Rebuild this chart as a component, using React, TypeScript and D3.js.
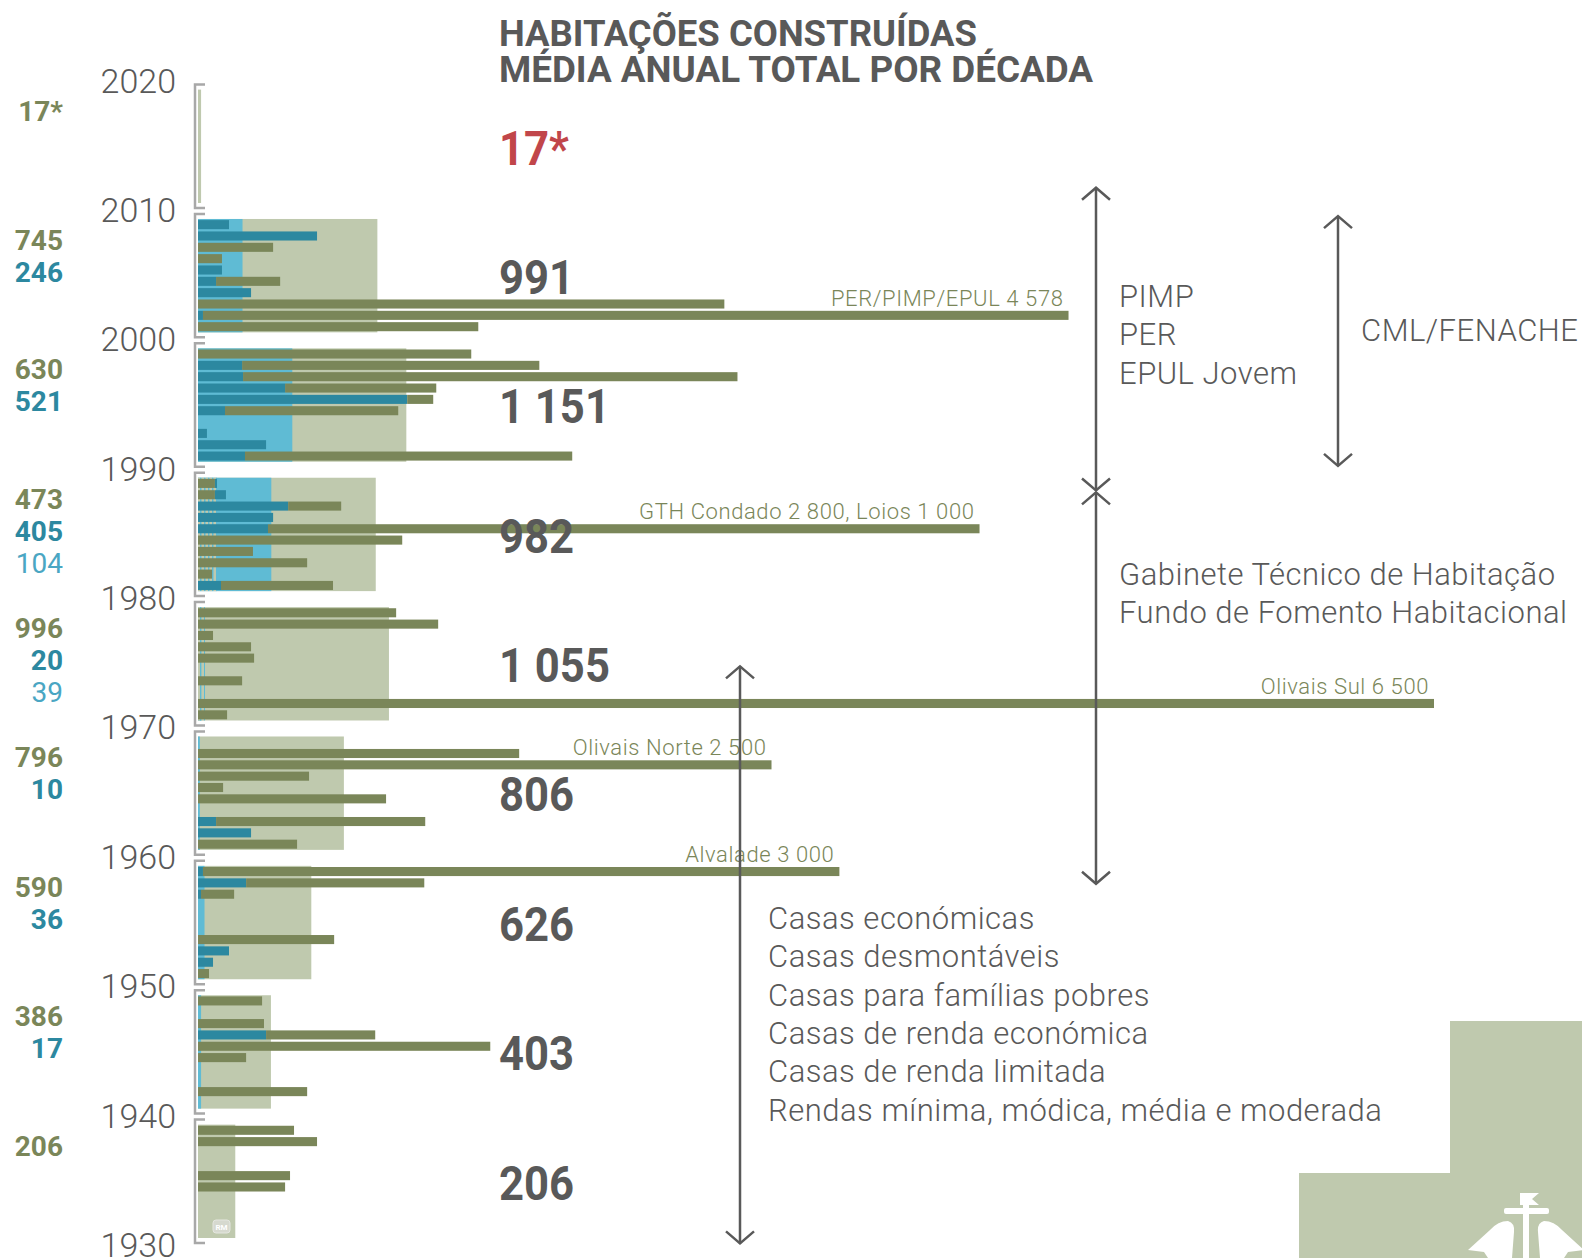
import React, { useRef, useEffect } from 'react'
import * as d3 from 'd3'

const width = 1582
const height = 1258

// decade summaries (annual average per decade)
const decades = [1930, 1940, 1950, 1960, 1970, 1980, 1990, 2000, 2010]
const oliveAvg = [206, 386, 590, 796, 996, 473, 630, 745, 17]
const tealAvg = [0, 17, 36, 10, 20, 405, 521, 246, 0]
const otherAvg = [0, 0, 0, 0, 39, 104, 0, 0, 0]
const totalAvg = [206, 403, 626, 806, 1055, 982, 1151, 991, 17]
const totalText = ['206', '403', '626', '806', '1 055', '982', '1 151', '991', '17*']

// yearly values, first year of decade first
const olive1930 = [0, 0, 0, 0, 458, 484, 0, 0, 626, 505]
const teal1930 = [0, 0, 0, 0, 0, 0, 0, 0, 0, 0]
const olive1940 = [0, 574, 0, 0, 253, 1537, 574, 347, 0, 337]
const teal1940 = [0, 0, 0, 0, 0, 0, 358, 0, 0, 0]
const olive1950 = [58, 0, 0, 716, 0, 0, 0, 174, 937, 3347]
const teal1950 = [0, 79, 163, 0, 0, 0, 0, 16, 253, 26]
const olive1960 = [521, 0, 1100, 0, 989, 132, 584, 3016, 1689, 0]
const teal1960 = [0, 279, 95, 0, 0, 0, 0, 0, 0, 0]
const olive1970 = [153, 6500, 0, 232, 0, 295, 279, 79, 1263, 1042]
const teal1970 = [0, 0, 0, 0, 0, 0, 0, 0, 0, 0]
const olive1980 = [589, 74, 574, 289, 1074, 3742, 0, 279, 0, 0]
const teal1980 = [121, 0, 0, 0, 0, 368, 395, 474, 58, 11]
const lead1980 = [0, 0, 0, 0, 0, 0, 0, 0, 89, 89]
const olive1990 = [1721, 0, 0, 0, 911, 137, 795, 2600, 1563, 1437]
const teal1990 = [247, 358, 47, 0, 142, 1100, 458, 237, 232, 0]
const olive2000 = [1474, 4552, 2768, 0, 337, 0, 126, 395, 0, 0]
const teal2000 = [0, 26, 0, 279, 95, 126, 0, 0, 626, 163]
const empty = [0, 0, 0, 0, 0, 0, 0, 0, 0, 0]

const oliveYears = [olive1930, olive1940, olive1950, olive1960, olive1970, olive1980, olive1990, olive2000, empty]
const tealYears = [teal1930, teal1940, teal1950, teal1960, teal1970, teal1980, teal1990, teal2000, empty]
const leadYears = [empty, empty, empty, empty, empty, lead1980, empty, empty, empty]

const callouts = [
  { year: 2001, text: 'PER/PIMP/EPUL 4 578' },
  { year: 1985, text: 'GTH Condado 2 800, Loios 1 000' },
  { year: 1971, text: 'Olivais Sul 6 500' },
  { year: 1967, text: 'Olivais Norte 2 500' },
  { year: 1959, text: 'Alvalade 3 000' },
]

const programmeA = ['PIMP', 'PER', 'EPUL Jovem']
const programmeB = ['Gabinete Técnico de Habitação', 'Fundo de Fomento Habitacional']
const programmeC = [
  'Casas económicas',
  'Casas desmontáveis',
  'Casas para famílias pobres',
  'Casas de renda económica',
  'Casas de renda limitada',
  'Rendas mínima, módica, média e moderada',
]

const OLIVE = '#7a8659'
const TEAL = '#2c88a0'
const LIGHT_BLUE = '#5fbbd4'
const LIGHT_OLIVE = '#bfc9ae'
const GREY = '#595959'
const FONT = 'Roboto, "DejaVu Sans", sans-serif'

export default function App() {
  const svgRef = useRef<SVGSVGElement>(null)

  useEffect(() => {
    if (!svgRef.current) return
    const svg = d3.select(svgRef.current)
    svg.selectAll('*').remove()

    const y = d3.scaleLinear().domain([1930, 2020]).range([1246, 81.6])
    const xBar = d3.scaleLinear().domain([0, 6500]).range([198, 1434])
    const xAvg = d3.scaleLinear().domain([0, 1000]).range([198, 379])

    const defs = svg.append('defs')
    const pat = defs.append('pattern')
      .attr('id', 'stripes')
      .attr('patternUnits', 'userSpaceOnUse')
      .attr('width', 4)
      .attr('height', 4)
    pat.append('rect').attr('width', 1.5).attr('height', 4).attr('fill', LIGHT_BLUE)
    pat.append('rect').attr('x', 1.5).attr('width', 2.5).attr('height', 4).attr('fill', LIGHT_OLIVE)

    // stepped block + emblem bottom right
    svg.append('path')
      .attr('d', 'M1450,1021H1582V1258H1299V1173H1450Z')
      .attr('fill', LIGHT_OLIVE)
    const emb = svg.append('g').attr('fill', '#fff')
    emb.append('path').attr('d', 'M1520,1193H1539L1532,1199L1539,1205H1520Z')
    emb.append('rect').attr('x', 1504).attr('y', 1208).attr('width', 45).attr('height', 6).attr('rx', 2)
    emb.append('rect').attr('x', 1523).attr('y', 1205).attr('width', 6).attr('height', 53)
    emb.append('path').attr('d', 'M1468,1250L1490,1230Q1498,1221 1508,1221Q1515,1223 1514,1232L1512,1258H1488L1484,1252Z')
    emb.append('path').attr('d', 'M1584,1250L1562,1230Q1554,1221 1544,1221Q1537,1223 1538,1232L1540,1258H1564L1568,1252Z')

    // year ticks
    d3.range(1930, 2021, 10).forEach(yr => {
      svg.append('text')
        .attr('x', 176)
        .attr('y', y(yr) + 11)
        .attr('text-anchor', 'end')
        .attr('font-family', FONT)
        .attr('font-weight', 300)
        .attr('font-size', 34)
        .attr('fill', GREY)
        .text(yr)
    })

    const bandFor: Record<number, d3.ScaleBand<number>> = {}

    decades.forEach((d, i) => {
      const top = y(d + 10) + 8
      const bottom = y(d) - 8

      // bracket
      svg.append('path')
        .attr('d', `M205,${top - 5}H195V${bottom + 5}H205`)
        .attr('fill', 'none')
        .attr('stroke', '#a8a8a8')
        .attr('stroke-width', 2.5)

      // decade average backgrounds
      svg.append('rect')
        .attr('x', xAvg(0)).attr('y', top)
        .attr('width', xAvg(totalAvg[i]) - xAvg(0)).attr('height', bottom - top)
        .attr('fill', LIGHT_OLIVE)
      if (tealAvg[i] > 0) {
        svg.append('rect')
          .attr('x', xAvg(0)).attr('y', top)
          .attr('width', xAvg(tealAvg[i]) - xAvg(0)).attr('height', bottom - top)
          .attr('fill', LIGHT_BLUE)
      }
      if (otherAvg[i] > 0) {
        svg.append('rect')
          .attr('x', xAvg(0)).attr('y', top)
          .attr('width', xAvg(otherAvg[i]) - xAvg(0)).attr('height', bottom - top)
          .attr('fill', 'url(#stripes)')
      }

      // yearly bars
      const years = d3.range(d + 9, d - 1, -1)
      const band = d3.scaleBand<number>().domain(years).range([top, bottom]).paddingInner(0.2).paddingOuter(0.1)
      years.forEach(yr => { bandFor[yr] = band })
      years.forEach(yr => {
        const k = yr - d
        const lead = leadYears[i][k]
        const teal = tealYears[i][k]
        const olive = oliveYears[i][k]
        const segs: [number, number, string][] = [
          [0, lead, OLIVE],
          [lead, lead + teal, TEAL],
          [lead + teal, lead + teal + olive, OLIVE],
        ]
        segs.filter(s => s[1] > s[0]).forEach(s => {
          svg.append('rect')
            .attr('x', xBar(s[0]))
            .attr('y', band(yr)!)
            .attr('width', xBar(s[1]) - xBar(s[0]))
            .attr('height', band.bandwidth())
            .attr('fill', s[2])
        })
      })

      // left labels
      const left: [string, string, number][] = [[i === 8 ? '17*' : String(oliveAvg[i]), OLIVE, 700]]
      if (tealAvg[i] > 0) left.push([String(tealAvg[i]), TEAL, 700])
      if (otherAvg[i] > 0) left.push([String(otherAvg[i]), '#4aa6c3', 400])
      left.forEach((l, j) => {
        svg.append('text')
          .attr('x', 63)
          .attr('y', top + 31 + j * 32)
          .attr('text-anchor', 'end')
          .attr('font-family', FONT)
          .attr('font-weight', l[2])
          .attr('font-size', 28)
          .attr('fill', l[1])
          .text(l[0])
      })
    })

    // callout labels
    callouts.forEach(c => {
      const k = c.year % 10
      const i = decades.indexOf(c.year - k)
      const total = leadYears[i][k] + tealYears[i][k] + oliveYears[i][k]
      svg.append('text')
        .attr('x', xBar(total) - 5)
        .attr('y', bandFor[c.year](c.year)! - 5)
        .attr('text-anchor', 'end')
        .attr('font-family', FONT)
        .attr('font-weight', 300)
        .attr('font-size', 22)
        .attr('letter-spacing', 0.6)
        .attr('fill', OLIVE)
        .text(c.text)
    })

    // big decade totals
    decades.forEach((d, i) => {
      const top = y(d + 10) + 8
      svg.append('text')
        .attr('transform', `translate(499,${top + 75}) scale(0.89,1)`)
        .attr('font-family', FONT)
        .attr('font-weight', 700)
        .attr('font-size', 49)
        .attr('fill', i === 8 ? '#c1464a' : GREY)
        .text(totalText[i])
    })

    // arrows
    const arrow = (x: number, y1: number, y2: number) => {
      const g = svg.append('g').attr('stroke', GREY).attr('stroke-width', 2.5).attr('fill', 'none')
      g.append('line').attr('x1', x).attr('x2', x).attr('y1', y1).attr('y2', y2)
      g.append('path').attr('d', `M${x - 14},${y1 + 12}L${x},${y1}L${x + 14},${y1 + 12}`)
      g.append('path').attr('d', `M${x - 14},${y2 - 12}L${x},${y2}L${x + 14},${y2 - 12}`)
    }
    arrow(1096, y(2011.8), y(1988.4))
    arrow(1096, y(1988.25), y(1958))
    arrow(1338, y(2009.6), y(1990.3))
    arrow(740, y(1974.8), y(1930.2))

    const block = (lines: string[], x: number, y0: number) => {
      lines.forEach((t, j) => {
        svg.append('text')
          .attr('x', x)
          .attr('y', y0 + j * 38.3)
          .attr('font-family', FONT)
          .attr('font-weight', 300)
          .attr('font-size', 31)
          .attr('letter-spacing', 0.5)
          .attr('fill', GREY)
          .text(t)
      })
    }
    block(programmeA, 1119, 307)
    block(['CML/FENACHE'], 1361, 341)
    block(programmeB, 1119, 585)
    block(programmeC, 768, 929)

    // title
    svg.append('text')
      .attr('x', 499).attr('y', 46)
      .attr('font-family', FONT).attr('font-weight', 700).attr('font-size', 37)
      .attr('fill', GREY)
      .attr('textLength', 478).attr('lengthAdjust', 'spacingAndGlyphs')
      .text('HABITAÇÕES CONSTRUÍDAS')
    svg.append('text')
      .attr('x', 499).attr('y', 82)
      .attr('font-family', FONT).attr('font-weight', 700).attr('font-size', 37)
      .attr('fill', GREY)
      .attr('textLength', 594).attr('lengthAdjust', 'spacingAndGlyphs')
      .text('MÉDIA ANUAL TOTAL POR DÉCADA')

    // small RM mark
    svg.append('rect')
      .attr('x', 213).attr('y', 1220).attr('width', 17).attr('height', 13).attr('rx', 3)
      .attr('fill', '#d6d9cf').attr('stroke', '#e4e6df')
    svg.append('text')
      .attr('x', 221.5).attr('y', 1230).attr('text-anchor', 'middle')
      .attr('font-family', FONT).attr('font-weight', 700).attr('font-size', 8)
      .attr('fill', '#fff').text('RM')
  }, [])

  return (
    <svg
      ref={svgRef}
      width={width}
      height={height}
      style={{ position: 'absolute', left: 0, top: 0, background: '#fff' }}
    />
  )
}
